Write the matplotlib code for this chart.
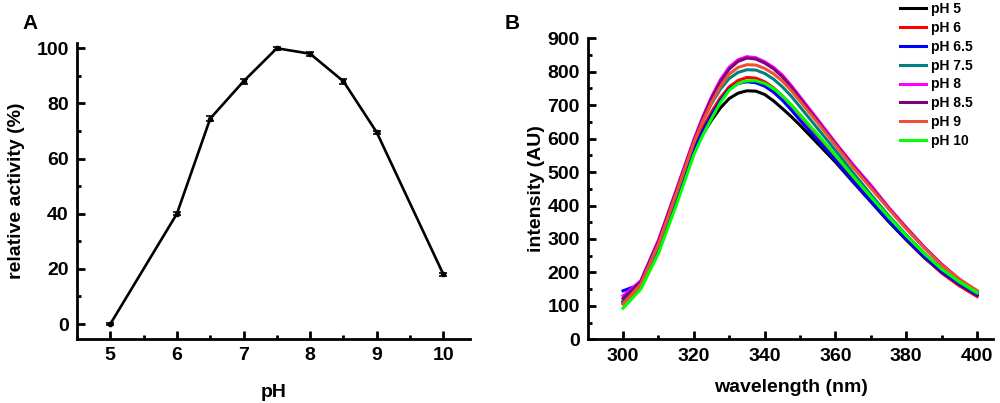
import matplotlib.pyplot as plt
from matplotlib.ticker import MultipleLocator

plt.rcParams['font.family'] = ['Liberation Sans', 'DejaVu Sans']
plt.rcParams['font.weight'] = 'bold'

# panel A: relative activity vs pH
ph = [5, 6, 6.5, 7, 7.5, 8, 8.5, 9, 10]
activity = [0, 40, 74.5, 88, 100, 98, 88, 69.5, 18]
activity_err = [0.4, 0.6, 0.9, 0.8, 0.5, 0.7, 0.8, 0.6, 0.5]

# panel B: emission spectra at each pH
wavelength = [300, 305, 310, 315, 320, 322.5, 325, 327.5, 330, 332.5,
              335, 337.5, 340, 342.5, 345, 347.5, 350, 355, 360, 365,
              370, 375, 380, 385, 390, 395, 400]
spectra = {
    'pH 5':   [112, 165, 265, 410, 560, 613, 655, 692, 720, 736,
               743, 742, 732, 713, 690, 666, 640, 585, 530, 470,
               411, 352, 297, 245, 200, 162, 130],
    'pH 6':   [108, 160, 270, 420, 575, 632, 680, 722, 755, 774,
               783, 781, 770, 752, 728, 700, 670, 608, 545, 480,
               418, 357, 300, 247, 198, 160, 128],
    'pH 6.5': [145, 165, 262, 410, 565, 622, 670, 714, 748, 765,
               770, 767, 757, 739, 715, 686, 655, 595, 535, 472,
               413, 355, 300, 248, 202, 165, 133],
    'pH 7.5': [115, 168, 280, 432, 590, 653, 705, 748, 780, 798,
               806, 805, 795, 778, 755, 727, 695, 630, 565, 498,
               433, 370, 312, 258, 210, 170, 137],
    'pH 8':   [130, 175, 297, 446, 597, 665, 725, 776, 814, 836,
               845, 842, 830, 813, 790, 759, 725, 657, 588, 522,
               461, 395, 335, 277, 225, 180, 143],
    'pH 8.5': [122, 172, 292, 442, 593, 660, 720, 770, 808, 831,
               841, 838, 826, 809, 785, 754, 720, 652, 584, 518,
               456, 392, 332, 275, 223, 178, 141],
    'pH 9':   [105, 165, 285, 435, 588, 652, 708, 756, 793, 813,
               821, 820, 810, 794, 772, 744, 712, 647, 580, 514,
               452, 390, 330, 274, 222, 180, 146],
    'pH 10':  [93, 150, 257, 400, 552, 610, 660, 708, 745, 765,
               773, 773, 765, 750, 728, 701, 672, 612, 550, 487,
               426, 366, 310, 257, 210, 172, 140],
}
colors = ['#000000', '#ff0000', '#0000ff', '#008080',
          '#ff00ff', '#800080', '#f05032', '#00ff00']


def style_axes(ax):
    for side in ['top', 'right']:
        ax.spines[side].set_visible(False)
    for side in ['left', 'bottom']:
        ax.spines[side].set_linewidth(2)
    ax.tick_params(which='major', direction='in', length=6, width=2,
                   labelsize=14, pad=6)
    ax.tick_params(which='minor', direction='in', length=3, width=2)
    for lab in ax.get_xticklabels() + ax.get_yticklabels():
        lab.set_fontweight('bold')


fig = plt.figure(figsize=(10, 4.03), dpi=100)

axA = fig.add_axes([0.077, 0.159, 0.393, 0.735])
axA.errorbar(ph, activity, yerr=activity_err, color='black', lw=1.9,
             marker='o', ms=3, capsize=3, elinewidth=1.2, capthick=1.2)
axA.set_xlim(4.5, 10.4)
axA.set_ylim(-5.4, 102)
axA.xaxis.set_major_locator(MultipleLocator(1))
axA.xaxis.set_minor_locator(MultipleLocator(0.5))
axA.yaxis.set_major_locator(MultipleLocator(20))
axA.yaxis.set_minor_locator(MultipleLocator(10))
style_axes(axA)
axA.set_xlabel('pH', fontsize=14, fontweight='bold', labelpad=14)
axA.set_ylabel('relative activity (%)', fontsize=14, fontweight='bold',
               labelpad=8)
fig.text(0.022, 0.965, 'A', fontsize=15, fontweight='bold', va='top')

axB = fig.add_axes([0.588, 0.158, 0.405, 0.747])
for (label, vals), c in zip(spectra.items(), colors):
    axB.plot(wavelength, vals, color=c, lw=2.2, label=label)
axB.set_xlim(290.1, 404.5)
axB.set_ylim(0, 900)
axB.xaxis.set_major_locator(MultipleLocator(20))
axB.xaxis.set_minor_locator(MultipleLocator(10))
axB.yaxis.set_major_locator(MultipleLocator(100))
axB.yaxis.set_minor_locator(MultipleLocator(50))
style_axes(axB)
axB.set_xlabel('wavelength (nm)', fontsize=14, fontweight='bold',
               labelpad=10)
axB.set_ylabel('intensity (AU)', fontsize=14, fontweight='bold', labelpad=2)
fig.text(0.505, 0.965, 'B', fontsize=15, fontweight='bold', va='top')

axB.legend(loc='upper left', bbox_to_anchor=(0.900, 0.995),
           bbox_transform=fig.transFigure, frameon=False,
           prop={'weight': 'bold', 'size': 10}, handlelength=1.9,
           handletextpad=0.3, labelspacing=0.35, borderpad=0,
           borderaxespad=0)

fig.savefig('out.png', dpi=100)
